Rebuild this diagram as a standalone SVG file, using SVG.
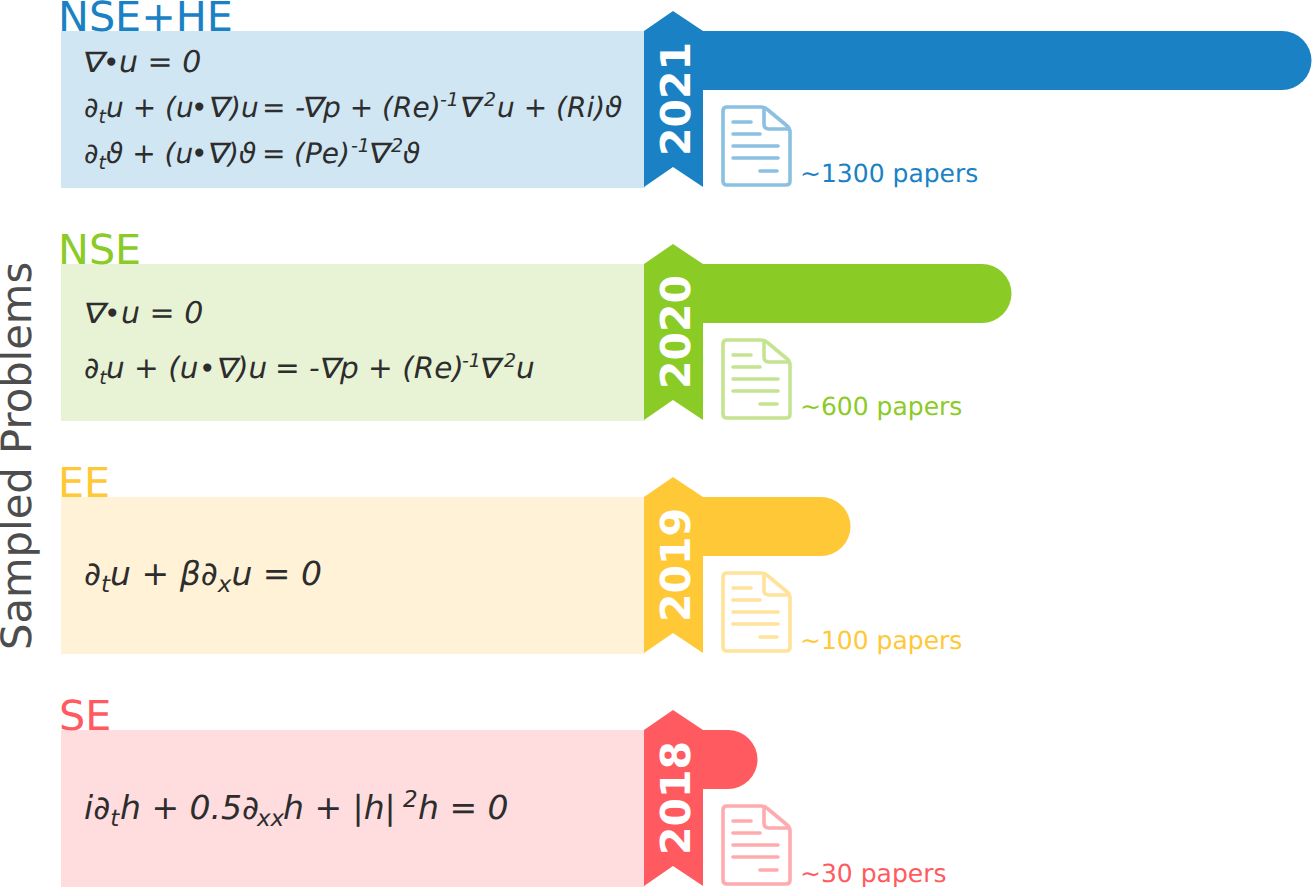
<svg xmlns="http://www.w3.org/2000/svg" xmlns:xlink="http://www.w3.org/1999/xlink" width="1312" height="887" viewBox="0 0 1312 887">
<style>
text{font-family:"DejaVu Sans",sans-serif;text-rendering:geometricPrecision}
.t{font-size:41.300px}
.eq{font-size:28px;font-style:italic;fill:#2d2d2d}
.l1{font-size:30px}
.e2{font-size:29.500px}
.e3{font-size:33px}
.sub{font-size:19px}
.s3{font-size:23px}
.bl{font-size:28px}
.nb{font-size:28px;font-style:normal;fill:#2d2d2d}
.yr{font-size:41px;font-weight:bold;fill:#fff}
.cnt{font-size:25px}
.ic{fill:none;stroke-width:3.600;stroke-linecap:round;stroke-linejoin:round;opacity:.5}
.a{fill:#1a82c4}.b{fill:#8bcb26}.c{fill:#ffc837}.d{fill:#ff5a60}
.ia{stroke:#1a82c4}.ib{stroke:#8bcb26}.ic2{stroke:#ffc837}.id{stroke:#ff5a60}
</style>
<defs>
<polygon id="rib" points="644,31 673,11 703,31 703,187 673,167 644,187"/>
<g id="doc">
<path d="M727,107H761Q765,107 768,110L786,125Q790,128 790,132V181Q790,185 786,185H727Q723,185 723,181V111Q723,107 727,107Z"/>
<path d="M764,108V124Q764,129 769,129H789"/>
<path d="M733,122H751M733,134H760M733,146H778M733,158H778M760,171H777"/>
</g>
</defs>
<text transform="translate(31,650) rotate(-90)" font-size="41.700" fill="#4d4d4d">Sampled Problems</text>
<g id="connectors"></g>
<g id="nse-he">
<rect x="61" y="31" width="584" height="157" fill="#d1e6f3"/>
<text class="t a" x="58" y="31">NSE+HE</text>
<path class="a" d="M700,31H1282a29.500,29.500 0 0 1 0,59H700Z"/>
<use xlink:href="#rib" class="a"/>
<text class="yr" transform="translate(690,156) rotate(-90)">2021</text>
<use xlink:href="#doc" class="ic ia"/>
<text class="cnt a" x="800" y="182">~1300 papers</text>
<text class="nb" transform="translate(81,72) skewX(-12) scale(1.2,1)">∇</text>
<text class="eq l1" x="103" y="72"><tspan class="bl">•</tspan><tspan x="119">u = 0</tspan></text>
<text class="eq" x="84" y="117">∂<tspan class="sub" dy="6">t</tspan><tspan x="106" dy="-6">u + (u</tspan><tspan class="bl" x="191">•</tspan><tspan x="230">)u</tspan><tspan x="262">=</tspan><tspan x="295">-</tspan><tspan x="323">p + (Re)</tspan><tspan class="sub" x="440" dy="-11">-1</tspan><tspan class="sub" x="484">2</tspan><tspan x="497" dy="11">u + (Ri)ϑ</tspan></text>
<text class="nb" transform="translate(207,117) skewX(-12) scale(1.15,1)">∇</text>
<text class="nb" transform="translate(301,117) skewX(-12) scale(1.15,1)">∇</text>
<text class="nb" transform="translate(458,117) skewX(-12) scale(1.15,1)">∇</text>
<text class="eq" x="84" y="163">∂<tspan class="sub" dy="6">t</tspan><tspan x="106" dy="-6">ϑ + (u</tspan><tspan class="bl" x="191">•</tspan><tspan x="228">)ϑ</tspan><tspan x="262">=</tspan><tspan x="294">(Pe)</tspan><tspan class="sub" x="351" dy="-11">-1</tspan><tspan class="sub" x="391">2</tspan><tspan x="403" dy="11">ϑ</tspan></text>
<text class="nb" transform="translate(206,163) skewX(-12) scale(1.15,1)">∇</text>
<text class="nb" transform="translate(367,163) skewX(-12) scale(1.15,1)">∇</text>
</g>
<g id="nse" transform="translate(0,233)">
<rect x="61" y="31" width="584" height="157" fill="#e8f3d5"/>
<text class="t b" x="58" y="31">NSE</text>
<path class="b" d="M700,31H982a29.500,29.500 0 0 1 0,59H700Z"/>
<use xlink:href="#rib" class="b"/>
<text class="yr" transform="translate(690,156) rotate(-90)">2020</text>
<use xlink:href="#doc" class="ic ib"/>
<text class="cnt b" x="800" y="182">~600 papers</text>
<text class="nb" transform="translate(82,90) skewX(-12) scale(1.2,1)">∇</text>
<text class="eq l1" x="104" y="90"><tspan class="bl">•</tspan><tspan x="121">u = 0</tspan></text>
<text class="eq e2" x="84" y="145">∂<tspan class="sub" dy="6">t</tspan><tspan x="106" dy="-6">u + (u</tspan><tspan class="bl" x="199">•</tspan><tspan x="237">)u</tspan><tspan x="275">=</tspan><tspan x="309">-</tspan><tspan x="340">p + (Re)</tspan><tspan class="sub" x="462" dy="-11">-1</tspan><tspan class="sub" x="504">2</tspan><tspan x="516" dy="11">u</tspan></text>
<text class="nb" transform="translate(215,145) skewX(-12) scale(1.15,1)">∇</text>
<text class="nb" transform="translate(318,145) skewX(-12) scale(1.15,1)">∇</text>
<text class="nb" transform="translate(478,145) skewX(-12) scale(1.15,1)">∇</text>
</g>
<g id="ee" transform="translate(0,466)">
<rect x="61" y="31" width="584" height="157" fill="#fff2d7"/>
<text class="t c" x="58" y="31">EE</text>
<path class="c" d="M700,31H821a29.500,29.500 0 0 1 0,59H700Z"/>
<use xlink:href="#rib" class="c"/>
<text class="yr" transform="translate(690,156) rotate(-90)">2019</text>
<use xlink:href="#doc" class="ic ic2"/>
<text class="cnt c" x="800" y="183">~100 papers</text>
<text class="eq e3" x="84" y="119">∂<tspan class="sub s3" dy="7">t</tspan><tspan dy="-7">u + β∂</tspan><tspan class="sub s3" dy="7">x</tspan><tspan dy="-7">u = 0</tspan></text>
</g>
<g id="se" transform="translate(0,699)">
<rect x="61" y="31" width="584" height="157" fill="#ffdddf"/>
<text class="t d" x="59" y="31">SE</text>
<path class="d" d="M700,31H728a29.500,29.500 0 0 1 0,59H700Z"/>
<use xlink:href="#rib" class="d"/>
<text class="yr" transform="translate(690,156) rotate(-90)">2018</text>
<use xlink:href="#doc" class="ic id"/>
<text class="cnt d" x="800" y="183">~30 papers</text>
<text class="eq e3" x="84" y="120">i∂<tspan class="sub s3" dy="7">t</tspan><tspan x="120" dy="-7">h + 0.5∂</tspan><tspan class="sub s3" x="257" dy="7">xx</tspan><tspan x="283" dy="-7">h + |h|</tspan><tspan class="sub s3" x="403" dy="-12">2</tspan><tspan x="418" dy="12">h = 0</tspan></text>
</g>
</svg>
